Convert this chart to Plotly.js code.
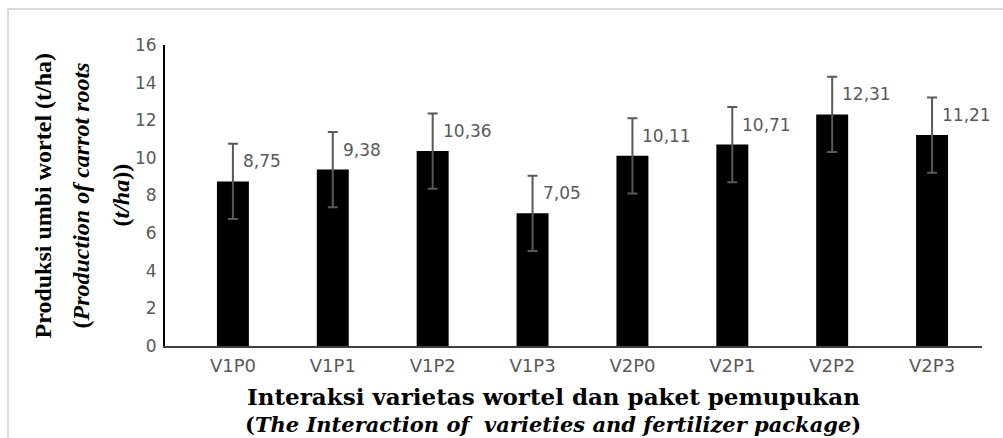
<!DOCTYPE html>
<html>
<head>
<meta charset="utf-8">
<script src="https://cdn.plot.ly/plotly-3.0.1.min.js"></script>
<style>
  html, body { margin: 0; padding: 0; background: #ffffff; overflow: hidden; }
  #frame { position: absolute; left: 7px; top: 8px; width: 2000px; height: 2000px; border: 2px solid #d9d9d9; }
  #chart { position: absolute; left: 0; top: 0; width: 1003px; height: 438px; }
</style>
</head>
<body>
<div id="frame"></div>
<div id="chart"></div>
<script>
// Data
const categories = ["V1P0", "V1P1", "V1P2", "V1P3", "V2P0", "V2P1", "V2P2", "V2P3"];
const production = [8.75, 9.38, 10.36, 7.05, 10.11, 10.71, 12.31, 11.21];
const errorValues = [2, 2, 2, 2, 2, 2, 2, 2];
const valueLabels = ["8,75", "9,38", "10,36", "7,05", "10,11", "10,71", "12,31", "11,21"];
const yTicks = [0, 2, 4, 6, 8, 10, 12, 14, 16];

const xIdx = categories.map((c, i) => i);

const barTrace = {
  type: "bar",
  x: xIdx,
  y: production,
  width: 0.32,
  marker: { color: "#000000", line: { width: 0 } },
  error_y: { type: "data", array: errorValues, visible: true, color: "#595959", thickness: 2, width: 5 },
  hoverinfo: "skip"
};

const labelAnnotations = production.map((v, i) => ({
  x: xIdx[i], y: v, xref: "x", yref: "y",
  text: valueLabels[i], showarrow: false,
  xanchor: "left", yanchor: "middle",
  xshift: 8, yshift: 20,
  font: { family: "DejaVu Sans, sans-serif", size: 17, color: "#595959" }
}));

const serif = "Liberation Serif, Times New Roman, serif";
const wideSerif = "DejaVu Serif, Liberation Serif, serif";
const titleAnnotations = [
  { xref: "paper", yref: "paper", x: 0, y: 0.5, xshift: -123, textangle: -90, showarrow: false,
    xanchor: "center", yanchor: "middle",
    text: "Produksi umbi wortel (t/ha)", font: { family: serif, size: 24, color: "#000", weight: "bold" } },
  { xref: "paper", yref: "paper", x: 0, y: 0.5, xshift: -85, textangle: -90, showarrow: false,
    xanchor: "center", yanchor: "middle",
    text: "(<i>Production of carrot roots</i>", font: { family: serif, size: 24, color: "#000", weight: "bold" } },
  { xref: "paper", yref: "paper", x: 0, y: 0.5, xshift: -45, textangle: -90, showarrow: false,
    xanchor: "center", yanchor: "middle",
    text: "(<i>t/ha</i>))", font: { family: serif, size: 24, color: "#000", weight: "bold" } },
  { xref: "paper", yref: "paper", x: 0.475, y: 0, yshift: -50, showarrow: false,
    xanchor: "center", yanchor: "middle",
    text: "Interaksi varietas wortel dan paket pemupukan", font: { family: wideSerif, size: 23, color: "#000", weight: "bold" } },
  { xref: "paper", yref: "paper", x: 0.475, y: 0, yshift: -78, showarrow: false,
    xanchor: "center", yanchor: "middle",
    text: "(<i>The Interaction of  varieties and fertilizer package</i>)", font: { family: wideSerif, size: 21, color: "#000", weight: "bold" } }
];

const layout = {
  width: 1003, height: 438,
  margin: { l: 165, r: 21, t: 45, b: 92 },
  paper_bgcolor: "rgba(0,0,0,0)",
  plot_bgcolor: "rgba(0,0,0,0)",
  showlegend: false,
  xaxis: {
    range: [-0.68, 7.5],
    tickmode: "array", tickvals: xIdx, ticktext: categories,
    showline: true, linecolor: "#404040", linewidth: 1.5,
    showgrid: false, zeroline: false, ticks: "",
    ticklabelstandoff: 3,
    tickfont: { family: "DejaVu Sans, sans-serif", size: 18, color: "#595959" }
  },
  yaxis: {
    range: [0, 16],
    tickmode: "array", tickvals: yTicks, ticktext: yTicks.map(String),
    showline: true, linecolor: "#000000", linewidth: 2,
    showgrid: false, zeroline: false, ticks: "",
    ticklabelstandoff: 3,
    tickfont: { family: "DejaVu Sans, sans-serif", size: 17, color: "#595959" }
  },
  annotations: labelAnnotations.concat(titleAnnotations)
};

Plotly.newPlot("chart", [barTrace], layout, { displayModeBar: false, staticPlot: true });
</script>
</body>
</html>
